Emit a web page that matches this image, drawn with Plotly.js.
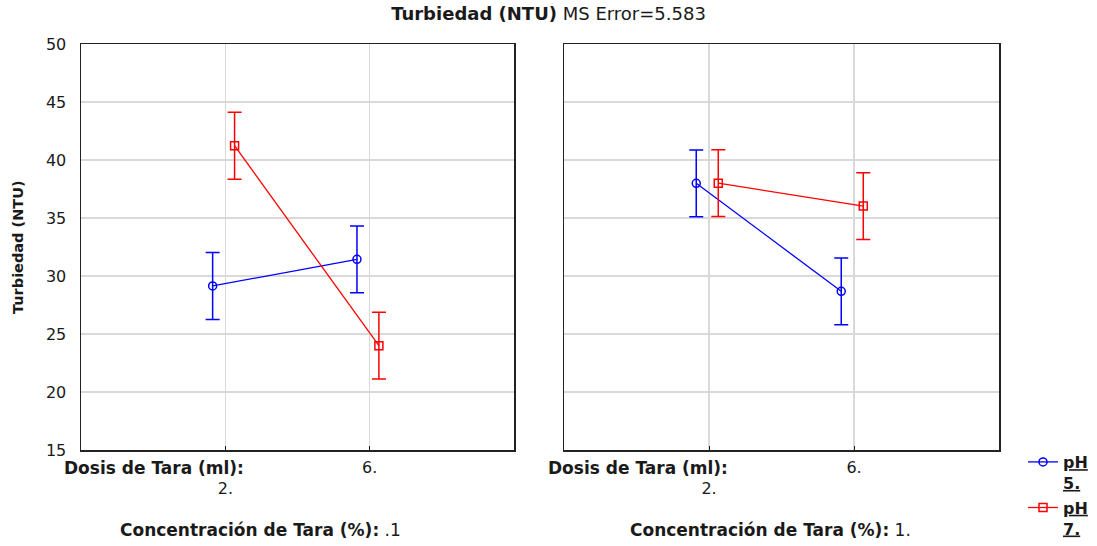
<!DOCTYPE html>
<html>
<head>
<meta charset="utf-8">
<script src="https://cdn.plot.ly/plotly-3.0.1.min.js"></script>
<style>html,body{margin:0;padding:0;background:#fff;}#chart{width:1097px;height:546px;}</style>
</head>
<body>
<div id="chart"></div>
<script>
// ---- data ----
const dosisLabels = ["2.", "6."];          // Dosis de Tara (ml)
const concLabels = [".1", "1."];           // Concentración de Tara (%)
const seriesNames = ["pH 5.", "pH 7."];
const ph5_conc01 = [29.14, 31.44];
const ph7_conc01 = [41.23, 23.99];
const ph5_conc1  = [37.99, 28.68];
const ph7_conc1  = [38.00, 36.03];
const ciHalf = 2.88;                       // half-width of the error bars
const yTicks = [15, 20, 25, 30, 35, 40, 45, 50];

// ---- styling ----
const FONT = "DejaVu Sans, Liberation Sans, Arial, sans-serif";
const TXT = "#1a1a1a";
const BLUE = "#0000ff", RED = "#ff0000";
const offsets = [-0.088, 0.064];           // horizontal dodge of the two series

function pos(i, s) { return i + 1 + offsets[s]; }
function mk(vals, s, xa, ya, show) {
  const color = s === 0 ? BLUE : RED;
  const parts = seriesNames[s].split(" ");
  return {
    type: "scatter", mode: "lines+markers",
    x: vals.map((v, i) => pos(i, s)), y: vals,
    xaxis: xa, yaxis: ya,
    name: "<b><u>" + parts[0] + "</u></b><br><b><u>" + parts[1] + "</u></b>",
    showlegend: show, legendgroup: seriesNames[s],
    line: {color: color, width: 1.3},
    marker: {symbol: s === 0 ? "circle-open" : "square-open", size: 8, color: color, line: {width: 1.5, color: color}},
    error_y: {type: "constant", value: ciHalf, color: color, thickness: 1.5, width: 7}
  };
}

const traces = [
  mk(ph5_conc01, 0, "x", "y", true),
  mk(ph7_conc01, 1, "x", "y", true),
  mk(ph5_conc1, 0, "x2", "y2", false),
  mk(ph7_conc1, 1, "x2", "y2", false)
];

const W = 1097;
const xCommon = {
  range: [0, 3], tickvals: [1, 2], ticktext: [" <br>" + dosisLabels[0], dosisLabels[1]],
  showgrid: true, gridcolor: "#d9d9d9", gridwidth: 1.5,
  showline: true, linecolor: "#222", linewidth: 1.5, mirror: true,
  ticks: "inside", ticklen: 4, tickcolor: "#222",
  zeroline: false, fixedrange: true, ticklabelstandoff: 2,
  tickfont: {family: FONT, size: 16, color: TXT}
};
const yCommon = {
  range: [15, 50], tickvals: yTicks,
  showgrid: true, gridcolor: "#d9d9d9", gridwidth: 1.5,
  showline: true, linecolor: "#222", linewidth: 1.5, mirror: true,
  ticks: "", zeroline: false, fixedrange: true,
  tickfont: {family: FONT, size: 16, color: TXT}
};

const layout = {
  width: 1097, height: 546,
  margin: {l: 0, r: 0, t: 44, b: 96},
  paper_bgcolor: "#fff", plot_bgcolor: "#fff",
  font: {family: FONT, color: TXT},
  title: {text: "<b>Turbiedad (NTU)</b> MS Error=5.583", x: 0.5, xanchor: "center", y: 0.974, yanchor: "middle",
          font: {family: FONT, size: 18, color: TXT}},
  xaxis: Object.assign({}, xCommon, {domain: [81 / W, 514 / W], anchor: "y"}),
  yaxis: Object.assign({}, yCommon, {domain: [0, 1], anchor: "x", ticklabelstandoff: 10}),
  xaxis2: Object.assign({}, xCommon, {domain: [564 / W, 999 / W], anchor: "y2"}),
  yaxis2: Object.assign({}, yCommon, {domain: [0, 1], anchor: "x2", showticklabels: false}),
  showlegend: true,
  legend: {x: 1023 / W, xanchor: "left", y: 0.012, yanchor: "top", yref: "paper", valign: "top",
           font: {family: FONT, size: 16, color: TXT}, bgcolor: "rgba(0,0,0,0)",
           tracegroupgap: 1, itemwidth: 30},
  annotations: [
    {xref: "x", yref: "paper", x: 1, y: 0, xshift: 21, yshift: -6, xanchor: "right", yanchor: "top",
     text: "<b>Dosis de Tara (ml):</b>", showarrow: false, font: {family: FONT, size: 17, color: TXT}},
    {xref: "x2", yref: "paper", x: 1, y: 0, xshift: 21, yshift: -6, xanchor: "right", yanchor: "top",
     text: "<b>Dosis de Tara (ml):</b>", showarrow: false, font: {family: FONT, size: 17, color: TXT}},
    {xref: "paper", yref: "paper", x: 260 / W, y: 0, yshift: -80, xanchor: "center", yanchor: "middle",
     text: "<b>Concentración de Tara (%):</b> " + concLabels[0], showarrow: false, font: {family: FONT, size: 17, color: TXT}},
    {xref: "paper", yref: "paper", x: 770 / W, y: 0, yshift: -80, xanchor: "center", yanchor: "middle",
     text: "<b>Concentración de Tara (%):</b> " + concLabels[1], showarrow: false, font: {family: FONT, size: 17, color: TXT}},
    {xref: "paper", yref: "paper", x: 18 / W, y: 0.5, xanchor: "center", yanchor: "middle", textangle: -90,
     text: "<b>Turbiedad (NTU)</b>", showarrow: false, font: {family: FONT, size: 14.5, color: TXT}}
  ]
};

Plotly.newPlot("chart", traces, layout, {displayModeBar: false, staticPlot: true});
</script>
</body>
</html>
